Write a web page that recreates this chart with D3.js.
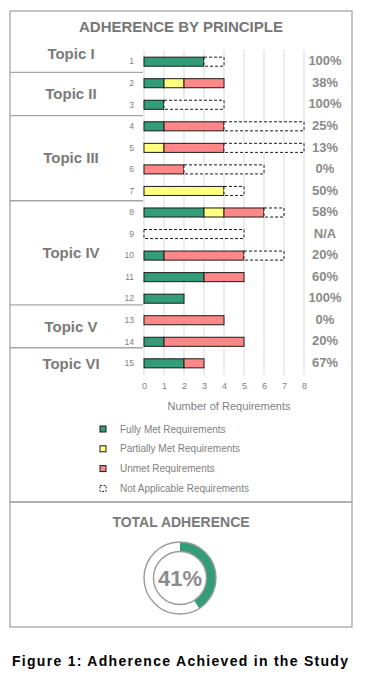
<!DOCTYPE html>
<html>
<head>
<meta charset="utf-8">
<script src="https://cdn.jsdelivr.net/npm/d3@7"></script>
<style>
  body { margin: 0; background: #fff; }
  text { font-family: "Liberation Sans", Arial, sans-serif; }
</style>
</head>
<body>
<div id="chart-area"></div>
<script>
//============================DATA============================
var rows      = [1, 2, 3, 4, 5, 6, 7, 8, 9, 10, 11, 12, 13, 14, 15];
var fullyMet  = [3, 1, 1, 1, 0, 0, 0, 3, 0, 1, 3, 2, 0, 1, 2];
var partial   = [0, 1, 0, 0, 1, 0, 4, 1, 0, 0, 0, 0, 0, 0, 0];
var unmet     = [0, 2, 0, 3, 3, 2, 0, 2, 0, 4, 2, 0, 4, 4, 1];
var notAppl   = [1, 0, 3, 4, 4, 4, 1, 1, 5, 2, 0, 0, 0, 0, 0];
var adherence = ["100%", "38%", "100%", "25%", "13%", "0%", "50%", "58%", "N/A", "20%", "60%", "100%", "0%", "20%", "67%"];

var topics     = ["Topic I", "Topic II", "Topic III", "Topic IV", "Topic V", "Topic VI"];
var topicFirst = [1, 2, 4, 8, 13, 15];
var topicLast  = [1, 3, 7, 12, 14, 15];

var xTicks = [0, 1, 2, 3, 4, 5, 6, 7, 8];
var seriesKeys   = ["met", "partial", "unmet", "na"];
var seriesNames  = ["Fully Met Requirements", "Partially Met Requirements", "Unmet Requirements", "Not Applicable Requirements"];
var seriesColors = ["#339c78", "#ffff80", "#ff8787", "#ffffff"];

var totalAdherence = 0.41;

//============================LAYOUT============================
var W = 371, H = 682;
var grey = "#808080";

var svg = d3.select("#chart-area").append("svg")
    .attr("width", W)
    .attr("height", H);

// panels
svg.append("rect").attr("x", 10).attr("y", 11).attr("width", 342).attr("height", 491)
    .attr("fill", "none").attr("stroke", "#a6a6a6").attr("stroke-width", 1.3);
svg.append("rect").attr("x", 10).attr("y", 502).attr("width", 342).attr("height", 125)
    .attr("fill", "none").attr("stroke", "#a6a6a6").attr("stroke-width", 1.3);

svg.append("text")
    .attr("x", 181).attr("y", 32)
    .attr("text-anchor", "middle")
    .attr("font-family", "Lato, sans-serif")
    .attr("font-weight", 700)
    .attr("font-size", "15px")
    .attr("fill", "#767676")
    .text("ADHERENCE BY PRINCIPLE");

// table for stacking
var data = rows.map(function(r, i){
    return { row: r, met: fullyMet[i], partial: partial[i], unmet: unmet[i], na: notAppl[i], pct: adherence[i] };
});

var x = d3.scaleLinear().domain([0, 8]).range([144, 304]);
var y = d3.scaleBand()
    .domain(rows)
    .range([50.9, 374.1])
    .paddingInner(0.58)
    .paddingOuter(0.29);
var step = y.step();
function mid(r){ return y(r) + y.bandwidth() / 2; }

// gridlines
svg.append("g").selectAll("line")
    .data(xTicks)
    .enter().append("line")
    .attr("x1", function(d){ return x(d); })
    .attr("x2", function(d){ return x(d); })
    .attr("y1", 50).attr("y2", 375)
    .attr("stroke", "#d9d9d9").attr("stroke-width", 1);

// x axis labels
var xAxis = d3.axisBottom(x).tickValues(xTicks).tickSize(0).tickPadding(0);
var xg = svg.append("g").attr("transform", "translate(0,383)").call(xAxis);
xg.select(".domain").remove();
xg.selectAll("text").attr("font-size", "9px").attr("fill", grey)
    .attr("font-family", "Liberation Sans, Arial, sans-serif");

svg.append("text")
    .attr("x", 229).attr("y", 410)
    .attr("text-anchor", "middle")
    .attr("font-size", "11px")
    .attr("fill", grey)
    .text("Number of Requirements");

// row labels
var yAxis = d3.axisLeft(y).tickSize(0).tickPadding(0);
var yg = svg.append("g").attr("transform", "translate(134,0)").call(yAxis);
yg.select(".domain").remove();
yg.selectAll("text").attr("font-size", "8.5px").attr("fill", grey)
    .attr("font-family", "Liberation Sans, Arial, sans-serif");

// stacked bars
var stacked = d3.stack().keys(seriesKeys)(data);
svg.append("g").selectAll("g")
    .data(stacked)
    .enter().append("g")
    .attr("fill", function(d, i){ return seriesColors[i]; })
    .each(function(s){
        d3.select(this).selectAll("rect")
            .data(s.filter(function(d){ return d[1] > d[0]; }))
            .enter().append("rect")
            .attr("x", function(d){ return x(d[0]); })
            .attr("y", function(d){ return y(d.data.row); })
            .attr("width", function(d){ return x(d[1]) - x(d[0]); })
            .attr("height", y.bandwidth())
            .attr("stroke", "#1a1a1a")
            .attr("stroke-width", 1)
            .attr("stroke-dasharray", s.key === "na" ? "3,2" : null);
    });

// adherence percentages
svg.append("g").selectAll("text")
    .data(data)
    .enter().append("text")
    .attr("x", 325)
    .attr("y", function(d){ return mid(d.row) - 1; })
    .attr("dy", "0.36em")
    .attr("text-anchor", "middle")
    .attr("font-family", "Lato, sans-serif")
    .attr("font-weight", 700)
    .attr("font-size", "13px")
    .attr("fill", "#8a8a8a")
    .text(function(d){ return d.pct; });

// topic column (the last two dividers sit a little above the row gap in the original)
var dividerNudge = [0, 0, 0, -1, -4.5, -4.8];
topics.forEach(function(t, i){
    var top = i === 0 ? 36 : y(topicFirst[i]) - step * 0.29 + dividerNudge[i];
    var bottom = i === topics.length - 1 ? 380
        : y(topicLast[i]) + y.bandwidth() + step * 0.29 + dividerNudge[i + 1];
    if (i > 0) {
        svg.append("line")
            .attr("x1", 10).attr("x2", 143)
            .attr("y1", top).attr("y2", top)
            .attr("stroke", "#a6a6a6").attr("stroke-width", 1.3);
    }
    svg.append("text")
        .attr("x", 71)
        .attr("y", (top + bottom) / 2)
        .attr("dy", "0.35em")
        .attr("text-anchor", "middle")
        .attr("font-family", "Lato, sans-serif")
        .attr("font-weight", 700)
        .attr("font-size", "15px")
        .attr("fill", "#7a7a7a")
        .text(t);
});

// legend
var legend = svg.append("g").selectAll("g")
    .data(seriesNames)
    .enter().append("g")
    .attr("transform", function(d, i){ return "translate(100," + (429 + i * 19.8) + ")"; });
legend.append("rect")
    .attr("x", 0).attr("y", -3).attr("width", 6).attr("height", 6)
    .attr("fill", function(d, i){ return seriesColors[i]; })
    .attr("stroke", "#1a1a1a").attr("stroke-width", 1)
    .attr("stroke-dasharray", function(d, i){ return i === 3 ? "2,1.5" : null; });
legend.append("text")
    .attr("x", 20).attr("y", 0).attr("dy", "0.35em")
    .attr("font-size", "10px")
    .attr("fill", grey)
    .text(function(d){ return d; });

//============================TOTAL ADHERENCE============================
svg.append("text")
    .attr("x", 181).attr("y", 527)
    .attr("text-anchor", "middle")
    .attr("font-family", "Lato, sans-serif")
    .attr("font-weight", 700)
    .attr("font-size", "14px")
    .attr("fill", "#7a7a7a")
    .text("TOTAL ADHERENCE");

var donut = svg.append("g").attr("transform", "translate(180,578)");
var arc = d3.arc().innerRadius(26.5).outerRadius(36);
donut.append("path")
    .attr("d", arc({ startAngle: 0, endAngle: 2 * Math.PI * totalAdherence }))
    .attr("fill", "#339c78");
[26.5, 36].forEach(function(r){
    donut.append("circle").attr("r", r)
        .attr("fill", "none").attr("stroke", "#9a9a9a").attr("stroke-width", 1.4);
});
donut.append("text")
    .attr("text-anchor", "middle")
    .attr("dy", "0.36em")
    .attr("font-family", "Lato, sans-serif")
    .attr("font-weight", 700)
    .attr("font-size", "22px")
    .attr("fill", "#8c8c8c")
    .text(d3.format(".0%")(totalAdherence));

// caption
svg.append("text")
    .attr("x", 12).attr("y", 666)
    .attr("textLength", 336)
    .attr("lengthAdjust", "spacing")
    .attr("font-family", "Lato, sans-serif")
    .attr("font-weight", 900)
    .attr("font-size", "14px")
    .attr("fill", "#000")
    .text("Figure 1: Adherence Achieved in the Study");
</script>
</body>
</html>
